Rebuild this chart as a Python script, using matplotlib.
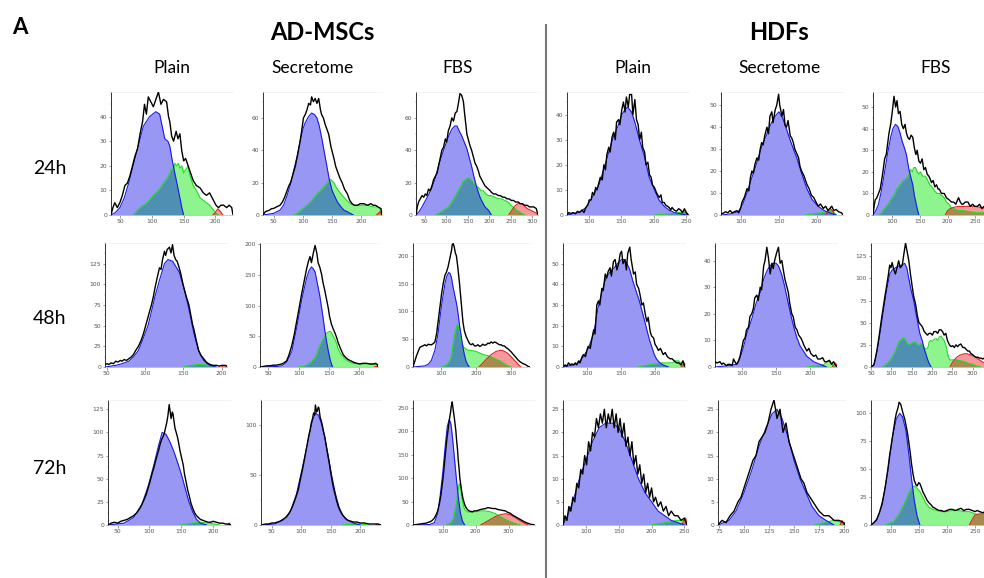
import matplotlib
matplotlib.use("Agg")
import matplotlib.pyplot as plt
from matplotlib.ticker import AutoMinorLocator

# ---------------------------------------------------------------
# Cell cycle histograms (DNA content).
# Every series is a list of (channel, count) pairs.
# hist = measured histogram, g1 = G1 fit, s = S/G2 fit, red = debris/aggregate fit
# ---------------------------------------------------------------

# AD-MSCs, Plain, 24h
ad_plain_24h_hist = [(35, 0), (38, 3), (41, 5), (45, 3), (49, 5), (53, 8), (57, 12), (61, 13), (65, 16), (69, 20),
                     (73, 24), (77, 27), (81, 33), (85, 38), (88, 45), (91, 41), (94, 48), (98, 46), (102, 44),
                     (106, 47), (110, 50), (114, 45), (118, 47), (123, 46), (126, 40), (128, 38), (131, 32),
                     (134, 30), (138, 34), (141, 31), (144, 33), (147, 26), (150, 22), (153, 23), (157, 20),
                     (161, 17), (165, 14), (170, 12), (176, 11), (181, 9), (186, 8), (191, 9), (197, 6), (201, 4),
                     (205, 3), (209, 4), (213, 4), (218, 3), (222, 4), (226, 3), (228, 0)]
ad_plain_24h_g1 = [(35, 0), (42, 1), (49, 3), (56, 7), (63, 13), (70, 20), (78, 28), (86, 36), (96, 40), (106, 42),
                   (112, 41), (120, 31), (125, 30), (128, 28), (132, 22), (136, 17), (140, 12), (144, 7), (147, 3),
                   (150, 0)]
ad_plain_24h_s = [(70, 0), (81, 3), (92, 5), (102, 8), (110, 10), (118, 13), (124, 15), (128, 17), (131, 19),
                  (134, 18), (136, 21), (139, 20), (141.5, 21), (144, 19), (147, 20), (150, 17), (152, 18), (155, 19),
                  (157, 20), (160, 16), (165, 12), (170, 10), (176, 7), (181, 6), (186, 5), (191, 4), (197, 2),
                  (202, 0.5), (206, 0)]
ad_plain_24h_red = [(196, 0), (200, 1), (204, 2.5), (208, 1.5), (212, 0)]

# AD-MSCs, Secretome, 24h
ad_secr_24h_hist = [(32, 0), (36, 2), (43, 3), (47, 4), (50, 4), (55, 5), (61, 6), (65, 8), (69, 11), (73, 15),
                    (76, 18), (79, 20), (83, 25), (87, 30), (91, 37), (95, 45), (98, 52), (101, 60), (104, 62),
                    (107, 65), (110, 69), (113, 68), (115, 73), (118, 70), (121, 72), (124, 69), (127, 72), (130, 65),
                    (132, 62), (135, 60), (138, 56), (141, 53), (144, 50), (148, 42), (153, 35), (156, 30), (159, 27),
                    (163, 23), (167, 20), (171, 16), (176, 13), (180, 9), (184, 7), (188, 6), (193, 6), (198, 7),
                    (204, 7), (210, 6), (216, 7), (220, 6), (224, 6), (228, 5), (233, 4), (235, 0)]
ad_secr_24h_g1 = [(32, 0), (50, 1), (61, 3), (67, 6), (73, 12), (79, 19), (84, 27), (90, 36), (95, 45), (100, 53),
                  (104, 57), (110, 61), (115, 63), (120, 62), (124, 60), (128, 55), (132, 48), (137, 38), (141, 30),
                  (145, 22), (150, 15), (155, 11), (159, 8), (165, 5), (170, 3), (176, 2), (181, 1), (186, 0)]
ad_secr_24h_s = [(85, 0), (90, 1), (100, 4), (107, 6), (115, 9), (124, 13), (130, 15), (135, 17), (140, 19),
                 (144, 21), (147, 22), (150, 21), (153, 20), (157, 17), (161, 15), (165, 13), (170, 11), (175, 9),
                 (181, 7), (188, 6), (193, 6), (200, 6), (210, 6), (220, 5), (227, 5), (233, 4), (235, 3)]
ad_secr_24h_red = [(225, 0), (229, 1), (231, 2), (234, 1), (235, 0)]

# AD-MSCs, FBS, 24h
ad_fbs_24h_hist = [(30, 0), (33, 5), (36, 8), (40, 10), (44, 12), (48, 11), (51.5, 13), (55, 12), (59, 16), (63, 15),
                   (67, 18), (71, 22), (75, 24), (79, 26), (82, 30), (86, 35), (90, 40), (94, 42), (98, 47), (101, 45),
                   (105, 52), (109, 55), (113, 60), (117, 58), (121, 63), (125, 64), (129, 70), (132, 75), (136, 74),
                   (140, 70), (143, 62), (146, 55), (148, 50), (152, 46), (155, 43), (159, 40), (163, 36), (167, 32),
                   (171, 30), (175, 27), (178, 24), (182, 22), (186, 20), (190, 18), (194, 17), (198, 16), (202, 15),
                   (205, 14), (210, 13), (215, 13), (221, 12), (226, 12), (231, 11), (236, 11), (241, 10), (246, 10),
                   (251, 9), (256, 9), (261, 8), (267, 8), (272, 7), (277, 7), (282, 6), (288, 6), (293, 5), (298, 5),
                   (303, 5), (309, 4), (313, 0)]
ad_fbs_24h_g1 = [(30, 0), (37, 2), (44, 5), (52, 9), (60, 13), (67, 17), (75, 23), (82, 30), (90, 37), (98, 43),
                 (106, 49), (113, 53), (120, 55), (125, 55), (130, 52), (136, 49), (142, 45), (148, 41), (153, 36),
                 (159, 30), (165, 23), (171, 17), (177, 12), (182, 9), (190, 5), (198, 3), (205, 0)]
ad_fbs_24h_s = [(75, 0), (82, 1), (94, 3), (105, 5), (113, 8), (120, 11), (128, 15), (134, 18), (140, 21), (146, 22),
                (151, 23), (157, 22), (163, 20), (169, 18), (175, 17), (181, 15), (186, 15), (192, 13), (198, 12),
                (205, 12), (213, 11), (221, 10), (228, 10), (236, 9), (244, 8), (250, 6), (255, 5), (260, 4),
                (263, 3), (270, 2), (275, 1), (283, 0)]
ad_fbs_24h_red = [(245, 0), (250, 2), (255, 4), (261, 6), (267, 7), (274, 7), (280, 6), (288, 4), (295, 3), (303, 2),
                  (310, 1), (313, 0)]

# HDFs, Plain, 24h
hdf_plain_24h_hist = [(67, 0), (70, 1), (73, 0.5), (76, 1), (80, 0.5), (83, 1.5), (86, 1), (90, 2), (93, 1), (96, 3),
                      (99, 4), (101, 6), (104, 6), (106, 9), (108.5, 8), (111, 11), (113, 10), (116, 13), (118, 15),
                      (121, 14), (123.5, 20), (126, 18), (128, 24), (131, 27), (133, 25), (136, 31), (138.5, 33),
                      (141, 30), (143, 37), (146, 38), (148, 36), (151, 42), (153.5, 45), (156, 41), (158, 47),
                      (161, 43), (163, 48), (166, 48), (168, 40), (171, 46), (173.5, 38), (176, 36), (178.5, 30),
                      (181, 33), (183, 27), (186, 25), (188, 20), (191, 21), (193.5, 16), (196, 15), (198, 12),
                      (201, 11), (204, 9), (206, 8), (208.5, 7), (211, 8), (213, 5), (216, 5), (218, 4), (221, 3.5),
                      (223.5, 3), (226, 2), (228, 3), (231, 2), (235, 1.5), (238, 2.5), (241, 2), (244, 1),
                      (247, 2.5), (250, 1), (253, 0)]
hdf_plain_24h_g1 = [(67, 0), (76, 0.5), (86, 1), (96, 3), (101, 5), (108, 8), (116, 12), (123, 18), (131, 25),
                    (138, 31), (146, 36), (151, 40), (156, 42), (160, 43), (166, 41), (171, 37), (178, 30), (186, 23),
                    (193, 15), (201, 10), (208, 6), (216, 3.5), (223, 2), (231, 1), (241, 0.5), (250, 0)]
hdf_plain_24h_s = [(200, 0), (215, 0.3), (230, 0.7), (240, 1), (247, 1), (252, 0)]
hdf_plain_24h_red = [(242, 0), (245, 1.5), (247, 2), (250, 0.5), (252, 0)]

# HDFs, Secretome, 24h
hdf_secr_24h_hist = [(73, 0.5), (76, 0.8), (79, 1.5), (82, 1), (85, 2), (88, 1), (91, 1.5), (94, 2), (96.5, 1),
                     (99, 3), (101, 6), (104, 8), (107.5, 12), (110, 11), (112, 17), (114, 20), (116, 19), (118, 23),
                     (120.7, 26), (123, 25), (125, 30), (127, 33), (129, 32), (131, 36), (134, 40), (136, 37),
                     (138, 45), (140.5, 47), (142, 42), (145, 48), (147, 50), (149.5, 55), (151, 50), (154, 45),
                     (156, 48), (158, 41), (160, 40), (162, 43), (165, 36), (167, 35), (169, 33), (171, 30),
                     (173.6, 28), (176, 26), (178, 22), (180, 20), (183, 18), (187, 14), (190, 12), (193, 9), (196, 8),
                     (199, 6), (202, 4), (205, 5), (209, 3), (212, 4), (215, 2), (217.6, 3), (220, 4), (223, 2),
                     (226, 2.5), (229, 1.5), (233, 1), (235, 0)]
hdf_secr_24h_g1 = [(73, 0), (85, 0.5), (96, 1.5), (102, 5), (107.5, 10), (114, 17), (120.7, 24), (127, 31), (134, 37),
                   (140, 42), (145, 45), (150, 47), (155, 44), (160, 39), (166, 33), (173.6, 26), (180, 19), (187, 12),
                   (194, 7), (202, 4), (210, 2), (217, 1), (226, 0)]
hdf_secr_24h_s = [(185, 0), (195, 0.5), (205, 1), (212, 1.5), (218, 2), (222, 1.5), (226, 0)]
hdf_secr_24h_red = [(212, 0), (215, 2), (218, 3), (221, 2), (224, 0)]

# HDFs, FBS, 24h
hdf_fbs_24h_hist = [(65, 0), (67, 4), (69, 7), (72, 8), (75, 10), (78, 12), (80, 15), (83, 20), (86, 26), (89, 28),
                    (92, 34), (94, 38), (97, 42), (100, 48), (103, 55), (106, 50), (108.5, 53), (111, 47), (114, 48),
                    (117, 42), (120, 40), (123, 42), (125.5, 38), (128, 36), (131, 35), (134, 37), (137, 36),
                    (140, 31), (142.6, 28), (145, 30), (148, 25), (151, 24), (154, 26), (157, 21), (160, 22),
                    (163, 19), (166, 18), (168, 17), (171, 15), (174, 16), (177, 13), (180, 14), (183, 12), (185, 12),
                    (189, 10), (194, 10), (198, 8), (203, 7), (207, 6), (211, 6), (215, 5), (218, 7), (220, 8),
                    (223, 6), (226, 5), (228, 5), (232, 6), (237, 6), (241, 4), (245.5, 5), (249, 4), (254, 4),
                    (258, 5), (262, 3), (266, 4), (268, 3)]
hdf_fbs_24h_g1 = [(65, 0), (70, 2), (75, 5), (80, 11), (86, 20), (91, 28), (97, 36), (101, 40), (105.7, 42),
                  (110, 41), (114, 38), (118, 34), (122, 31), (125.5, 28), (128, 24), (131, 20), (134, 17), (137, 14),
                  (140, 9), (142.6, 6), (145, 3), (148, 0)]
hdf_fbs_24h_s = [(75, 0), (80, 1), (86, 3), (92, 5), (97, 7), (103, 9), (108, 12), (114, 14), (120, 16), (125, 17),
                 (129, 18), (133, 21), (136, 20), (139, 22), (142, 22), (145, 20), (148, 19), (151, 20), (155, 18),
                 (160, 18), (164, 16), (168, 14), (172, 13), (177, 11), (181, 10), (185, 10), (190, 9), (194, 8),
                 (198, 6), (203, 5), (207, 3), (211, 3), (220, 2), (230, 2), (240, 1.5), (254, 1), (268, 1)]
hdf_fbs_24h_red = [(196, 0), (200, 2), (205, 3), (210, 3.5), (220, 4), (230, 4), (240, 4), (250, 4), (260, 3.5),
                   (268, 3)]

# AD-MSCs, Plain, 48h
ad_plain_48h_hist = [(48, 3), (51, 4), (53, 3), (56, 5), (59, 4), (62, 7), (65, 6), (68, 8), (70, 7), (73, 9),
                     (76, 8), (79, 10), (82, 12), (85, 15), (88, 20), (91.5, 25), (95, 32), (98, 40), (101, 50),
                     (104, 60), (106, 67), (108.5, 75), (111, 85), (113, 95), (116, 108), (119, 120), (121, 118),
                     (123, 130), (125.5, 140), (127, 135), (129, 142), (132, 145), (134, 138), (136, 148), (138, 135),
                     (140, 130), (142, 128), (144.7, 120), (147, 112), (149, 103), (151, 95), (154, 85), (157.4, 75),
                     (160, 62), (162, 52), (164, 45), (167, 32), (170, 20), (173, 14), (176.6, 10), (180, 6), (183, 4),
                     (185, 3), (189, 2), (193.6, 2), (197, 1), (200, 2), (204, 2), (207, 1), (208, 0)]
ad_plain_48h_g1 = [(48, 0), (55, 1), (62, 2), (70, 4), (79, 7), (85, 12), (91.5, 20), (98, 35), (104, 50), (108, 65),
                   (113, 85), (119, 105), (125.5, 125), (130, 130), (136, 128), (140, 122), (144.7, 115), (151, 95),
                   (157.4, 70), (164, 40), (170, 20), (176.6, 8), (181, 4), (185, 2), (193, 0)]
ad_plain_48h_s = [(150, 0), (160, 2), (168, 3), (176, 3), (184, 2), (190, 0)]
ad_plain_48h_red = [(200, 0), (203, 1.5), (206, 2), (208, 0)]

# AD-MSCs, Secretome, 48h
ad_secr_48h_hist = [(36, 0), (42, 1), (48, 2), (52.7, 2), (58, 3), (63.7, 3), (68, 4), (72, 5), (76, 7), (80, 10),
                    (84, 20), (88.5, 35), (92, 50), (96.7, 75), (101, 98), (105, 120), (109, 140), (113, 160),
                    (116, 172), (118.7, 180), (121, 170), (124, 185), (127, 198), (130, 185), (132, 170), (135, 162),
                    (138, 150), (140, 138), (143, 125), (146, 110), (149, 95), (151, 82), (154, 70), (157, 62),
                    (160, 55), (163, 47), (165, 40), (169, 30), (173.6, 20), (178, 15), (182, 12), (186, 10), (190, 8),
                    (196, 6), (201, 5), (206, 6), (212, 6), (218, 5), (223, 5), (227, 6), (230, 4), (231, 0)]
ad_secr_48h_g1 = [(36, 0), (55, 0.5), (65, 1), (72, 2), (80, 8), (88.5, 25), (96.7, 65), (105, 110), (113, 145),
                  (117, 157), (121, 163), (124, 160), (127, 155), (132, 130), (135, 115), (138, 95), (141, 75),
                  (143, 60), (146, 42), (149, 25), (152, 12), (154, 5), (156, 0)]
ad_secr_48h_s = [(100, 0), (107, 1), (113, 3), (120, 8), (127, 15), (131, 25), (135, 35), (139, 43), (143, 50),
                 (146, 55), (149, 57), (152, 58), (154, 56), (157, 50), (160, 45), (163, 37), (165, 30), (169, 22),
                 (173.6, 16), (178, 12), (182, 9), (186, 7), (190, 6), (200, 5), (207, 5), (215, 5), (222, 4),
                 (229, 4), (231, 3)]
ad_secr_48h_red = [(225, 0), (228, 1), (231, 1)]

# AD-MSCs, FBS, 48h
ad_fbs_48h_hist = [(18, 0), (23, 10), (28, 20), (33, 28), (37.5, 35), (42, 37), (47, 38), (52, 40), (57, 38), (62, 41),
                   (67, 40), (71, 40), (76, 42), (81, 45), (86, 60), (90, 80), (95, 105), (100, 130), (105, 150),
                   (110, 165), (114, 170), (119, 180), (124, 195), (129, 210), (131, 220), (134, 222), (137, 215),
                   (140, 205), (143, 200), (147, 180), (152, 150), (157, 115), (162, 80), (166, 65), (171, 55),
                   (176, 48), (181, 42), (185.5, 40), (190, 42), (195, 38), (200, 38), (205, 40), (210, 37), (214, 38),
                   (219, 41), (224, 39), (229, 40), (234, 43), (238, 42), (243, 45), (248, 43), (252.6, 45), (257, 44),
                   (262, 42), (267, 40), (272, 40), (276, 38), (281, 38), (286, 35), (291, 33), (296, 30), (301, 27),
                   (305, 24), (310.6, 20), (315, 17), (320, 13), (325, 10), (330, 8), (335, 6), (339.6, 5), (345, 3),
                   (350, 1), (355, 0)]
ad_fbs_48h_g1 = [(18, 0), (35, 1), (52, 2), (62, 5), (71, 12), (81, 30), (90, 60), (95, 85), (100, 110), (105, 130),
                 (110, 150), (115, 163), (121, 170), (125, 168), (129, 160), (133, 145), (138, 130), (143, 115),
                 (147, 100), (152, 75), (157, 55), (162, 35), (166, 22), (171, 10), (176, 4), (180, 0)]
ad_fbs_48h_s = [(100, 0), (110, 2), (116, 5), (121, 8), (126, 15), (130, 25), (133, 40), (137, 55), (140, 65),
                (143, 72), (145, 76), (148, 74), (150, 70), (153, 58), (156, 48), (160, 40), (165, 35), (171, 32),
                (178, 30), (185, 30), (192, 29), (200, 28), (207, 26), (214, 24), (222, 22), (229, 21), (236, 20),
                (243, 18), (250, 16), (257, 14), (264, 12), (271, 10), (278, 7), (285, 4), (292, 2), (300, 0)]
ad_fbs_48h_red = [(208, 0), (214, 4), (222, 9), (229, 14), (236, 18), (243, 22), (250, 25), (257, 28), (264, 29),
                  (271, 30), (278, 29), (285, 27), (292, 24), (300, 19), (307, 14), (315, 9), (322, 4), (329, 0)]

# HDFs, Plain, 48h
hdf_plain_48h_hist = [(65, 0), (68, 1), (71, 0.5), (73, 2), (76, 1), (78, 1.5), (80.5, 1), (83, 2), (85, 1), (88, 3),
                      (90, 2), (93, 5), (95, 6), (98, 5), (100, 8), (102, 10), (105, 9), (107, 13), (110, 18),
                      (112, 16), (114.6, 30), (117, 32), (119, 30), (122, 38), (124, 37), (127, 45), (129, 43),
                      (131, 46), (134, 48), (136, 44), (139, 51), (141.5, 52), (144, 47), (146.6, 50), (149, 55),
                      (151, 56), (153, 50), (156, 52), (158, 47), (160, 55), (163, 58), (165, 52), (168.5, 45),
                      (171, 46), (173, 40), (176, 38), (178, 35), (180.7, 30), (183, 31), (186, 25), (188, 22),
                      (190, 24), (193, 17), (195, 15), (198, 14), (200, 11), (202, 10), (205, 8), (208, 9), (212, 6),
                      (215, 7), (218, 5), (222, 4), (225, 4), (228, 3), (231.7, 2), (235, 2), (238, 1), (241, 3),
                      (244, 0)]
hdf_plain_48h_g1 = [(65, 0), (80, 1), (88, 2), (95, 5), (102, 9), (110, 16), (116, 28), (122, 36), (128, 43),
                    (134, 46), (140, 48), (145, 50), (151, 52), (155, 52), (159, 50), (163, 47), (168, 41), (173, 36),
                    (177, 32), (181, 27), (185, 22), (188, 18), (192, 13), (195, 10), (199, 6), (202, 4), (207, 2),
                    (212, 1), (220, 0)]
hdf_plain_48h_s = [(175, 0), (190, 1), (200, 1.5), (210, 2), (220, 2), (226, 2), (230, 3), (234, 3), (238, 2),
                   (242, 1), (244, 0)]
hdf_plain_48h_red = [(238, 0), (241, 1), (244, 2)]

# HDFs, Secretome, 48h
hdf_secr_48h_hist = [(61, 2), (64, 1.5), (68, 2), (71, 1), (73, 1.5), (75.6, 1), (78, 0.5), (80, 1), (83, 1),
                     (86, 0.5), (88, 3), (90, 2), (92.7, 1), (95, 2), (97.5, 4), (100, 7), (102.4, 10), (105, 11),
                     (107, 14), (110, 15), (112, 19), (114.6, 20), (117, 22), (119, 26), (122, 27), (124, 25),
                     (127, 30), (129, 29), (132, 38), (134, 40), (136.6, 45), (139, 41), (141.5, 35), (144, 39),
                     (146, 37), (148, 40), (151, 43), (153.6, 45), (156, 39), (158.5, 40), (161, 36), (163, 33),
                     (166, 30), (168, 28), (170, 24), (173, 20), (175, 19), (178, 15), (180.5, 14), (183, 12),
                     (186, 11), (188, 10), (191, 8), (195, 6), (198, 7), (201, 5), (205, 4), (208, 4.5), (211, 3),
                     (214.6, 3), (218, 3.5), (221, 2), (224, 2), (228, 2.5), (231, 1), (234, 2), (236, 1), (239, 0)]
hdf_secr_48h_g1 = [(61, 0), (80, 0.5), (92, 1), (97, 3), (102, 7), (108, 13), (114.6, 18), (121, 24), (127, 28),
                   (132, 33), (136.6, 36), (141, 38), (146, 39), (150, 39), (153.6, 38), (158, 35), (162, 31),
                   (167, 25), (173, 18), (177, 14), (180.5, 11), (185, 8), (190, 6), (195, 4), (200, 3), (205, 2),
                   (214, 1), (224, 0)]
hdf_secr_48h_s = [(195, 0), (210, 0.5), (220, 1), (225, 2), (229, 2), (232, 1), (236, 0)]
hdf_secr_48h_red = [(232, 0), (235, 1), (237, 1.5), (239, 0)]

# HDFs, FBS, 48h
hdf_fbs_48h_hist = [(50, 0), (53, 1), (56.6, 2), (60, 8), (65, 20), (69, 32), (73, 45), (77, 58), (81, 70), (85, 82),
                    (89.7, 95), (93, 105), (96, 115), (99, 112), (102, 118), (106, 110), (110, 105), (114, 112),
                    (118, 120), (122, 112), (127, 115), (131, 128), (135, 140), (139, 130), (143, 120), (147, 105),
                    (151.6, 90), (155, 80), (160, 70), (164, 58), (168, 50), (172, 48), (176.6, 45), (181, 40),
                    (185, 38), (189, 36), (193, 38), (197, 38), (201, 36), (205, 40), (210, 40), (214, 38), (218, 42),
                    (222, 42), (226, 40), (230, 36), (234, 38), (238, 30), (243, 25), (247, 23), (251, 24), (255, 22),
                    (259, 25), (263, 23), (267, 25), (271, 26), (276, 22), (280, 22), (284, 20), (288, 18), (292, 18),
                    (296, 15), (300, 14), (304.5, 12), (309, 11), (313, 11), (317, 10), (321, 10), (325, 9), (328, 10)]
hdf_fbs_48h_g1 = [(50, 0), (58, 3), (65, 18), (73, 40), (81, 65), (89, 88), (96, 105), (103, 110), (110, 112),
                  (118, 114), (125, 115), (133, 117), (138, 112), (143, 100), (148, 88), (155, 75), (160, 62),
                  (165, 50), (170, 38), (176, 30), (181, 20), (185, 15), (189, 9), (192, 5), (198, 0)]
hdf_fbs_48h_s = [(78, 0), (85, 2), (92, 5), (97, 8), (103, 12), (110, 18), (114, 23), (118, 28), (122, 30), (127, 32),
                 (131, 33), (135, 30), (139, 27), (143, 25), (147, 26), (151, 27), (155, 28), (160, 28), (164, 25),
                 (168, 24), (172, 26), (176, 26), (181, 22), (185, 20), (190, 22), (193, 28), (197, 30), (201, 29),
                 (205, 31), (210, 32), (214, 30), (218, 34), (222, 35), (226, 32), (230, 30), (235, 23), (240, 12),
                 (244, 8), (250, 8), (260, 8), (270, 7), (280, 6), (290, 4), (300, 3), (310, 1), (320, 0)]
hdf_fbs_48h_red = [(244, 0), (250, 5), (255, 8), (261, 11), (267, 13), (273, 14), (280, 15), (286, 15), (292, 14),
                   (298, 13), (304.5, 12), (310, 10), (317, 8), (323, 6), (328, 5)]

# AD-MSCs, Plain, 72h
ad_plain_72h_hist = [(35, 0), (40, 2), (45, 3), (50, 2), (55, 4), (60, 5), (65, 6), (70, 8), (75, 10), (80, 13),
                     (85, 18), (88, 22), (92, 28), (95, 33), (98, 40), (101, 47), (104, 55), (107, 62), (110, 70),
                     (112, 75), (115, 82), (117, 88), (119, 92), (121, 95), (123, 98), (125, 104), (127, 110),
                     (129, 118), (131, 130), (133, 120), (134, 115), (136, 122), (137, 120), (139, 110), (140, 105),
                     (142, 100), (144, 95), (146, 88), (148, 80), (150, 74), (153, 65), (155, 55), (158, 45),
                     (160, 38), (163, 30), (165, 24), (168, 18), (171, 13), (174, 10), (177, 8), (180, 6), (184, 5),
                     (188, 4), (192, 3), (196, 3), (200, 4), (205, 3), (210, 2), (215, 2), (220, 1), (225, 1), (228, 0)]
ad_plain_72h_g1 = [(35, 0), (60, 2), (75, 8), (88, 22), (98, 42), (107, 65), (114, 85), (120, 100), (126, 98),
                   (132, 90), (138, 80), (144, 68), (150, 55), (156, 40), (162, 25), (168, 14), (174, 6), (180, 2),
                   (190, 0)]
ad_plain_72h_s = [(150, 0), (165, 2), (180, 3), (195, 2), (210, 0)]
ad_plain_72h_red = [(222, 0), (225, 2), (228, 0)]

# AD-MSCs, Secretome, 72h
ad_secr_72h_hist = [(32, 0), (40, 1), (45, 1), (50, 2), (55, 2), (60, 3), (65, 4), (70, 6), (75, 8), (80, 12),
                    (85, 18), (90, 26), (95, 35), (98, 44), (102, 55), (105, 64), (108, 74), (110, 80), (113, 90),
                    (115, 95), (117, 102), (119, 106), (121, 112), (123, 110), (124, 120), (126, 113), (127, 114),
                    (129, 118), (130, 117), (132, 108), (134, 104), (136, 99), (138, 93), (140, 88), (143, 77),
                    (145, 70), (148, 60), (150, 52), (153, 42), (155, 36), (158, 29), (160, 24), (163, 18), (166, 14),
                    (170, 10), (174, 7), (178, 5), (183, 4), (188, 3), (194, 3), (200, 2), (207, 2), (215, 1),
                    (222, 1), (230, 1), (235, 0)]
ad_secr_72h_g1 = [(32, 0), (55, 1), (70, 5), (82, 14), (92, 31), (100, 52), (107, 71), (113, 88), (119, 104),
                  (124, 112), (129, 110), (134, 102), (140, 87), (146, 68), (152, 48), (158, 31), (164, 18), (170, 10),
                  (178, 5), (188, 2), (200, 0)]
ad_secr_72h_s = [(170, 0), (185, 1), (200, 1), (215, 0)]
ad_secr_72h_red = [(226, 0), (229, 1), (232, 0)]

# AD-MSCs, FBS, 72h
ad_fbs_72h_hist = [(10, 0), (20, 1), (30, 2), (40, 3), (50, 4), (58, 6), (65, 8), (70, 11), (75, 15), (80, 22),
                   (85, 30), (90, 45), (95, 65), (98, 82), (102, 105), (105, 128), (108, 150), (110, 165), (113, 185),
                   (115, 195), (118, 212), (120, 222), (122, 232), (124, 240), (126, 252), (128, 258), (129, 262),
                   (131, 250), (133, 240), (135, 230), (137, 218), (140, 200), (142, 182), (145, 160), (147, 140),
                   (150, 118), (152, 100), (155, 85), (158, 70), (161, 58), (164, 50), (167, 43), (170, 38), (175, 33),
                   (180, 30), (185, 29), (190, 28), (195, 30), (200, 30), (207, 31), (215, 33), (222, 34), (230, 35),
                   (237, 37), (245, 36), (252, 35), (260, 35), (267, 33), (275, 32), (282, 31), (290, 30), (297, 27),
                   (305, 25), (312, 21), (320, 18), (327, 15), (335, 12), (342, 9), (350, 6), (357, 4), (365, 2),
                   (372, 1), (380, 0)]
ad_fbs_72h_g1 = [(10, 0), (60, 1), (75, 5), (85, 25), (92, 60), (100, 110), (108, 170), (114, 210), (120, 225),
                 (125, 215), (130, 185), (136, 140), (142, 95), (148, 55), (154, 25), (160, 8), (167, 0)]
ad_fbs_72h_s = [(110, 0), (125, 5), (133, 15), (140, 40), (145, 65), (150, 88), (154, 82), (158, 60), (163, 40),
                (168, 32), (175, 28), (185, 27), (200, 28), (215, 30), (230, 30), (245, 28), (260, 24), (275, 18),
                (290, 12), (305, 7), (320, 3), (335, 0)]
ad_fbs_72h_red = [(215, 0), (230, 6), (245, 12), (260, 18), (275, 22), (290, 24), (305, 22), (320, 16), (335, 9),
                  (350, 3), (360, 0)]

# HDFs, Plain, 72h
hdf_plain_72h_hist = [(65, 0), (68, 2), (71, 1), (74, 4), (77, 3), (80, 6), (83, 5), (86, 9), (89, 8), (92, 12),
                      (95, 11), (98, 15), (101, 13), (104, 18), (107, 16), (110, 20), (113, 19), (116, 23), (119, 21),
                      (122, 24), (125, 22), (128, 25), (131, 21), (134, 24), (137, 22), (140, 25), (143, 21),
                      (146, 24), (149, 20), (152, 23), (155, 19), (158, 22), (161, 17), (164, 19), (167, 15),
                      (170, 18), (173, 13), (176, 15), (179, 11), (182, 13), (185, 9), (188, 11), (191, 7), (194, 9),
                      (197, 6), (200, 8), (203, 5), (206, 6), (210, 4), (214, 5), (218, 3), (222, 4), (226, 2),
                      (230, 3), (235, 2), (240, 2), (245, 1), (250, 1.5), (254, 0)]
hdf_plain_72h_g1 = [(65, 0), (72, 2), (80, 5), (90, 10), (100, 14), (110, 18), (120, 21), (130, 22), (140, 22),
                    (150, 21), (160, 18), (170, 14), (180, 10), (190, 7), (200, 5), (210, 3), (220, 2), (230, 1),
                    (240, 0.5), (250, 0)]
hdf_plain_72h_s = [(200, 0), (220, 0.5), (240, 1), (250, 1), (254, 0)]
hdf_plain_72h_red = [(246, 0), (249, 1), (252, 1.5), (254, 0)]

# HDFs, Secretome, 72h
hdf_secr_72h_hist = [(74, 0), (78, 1), (82, 0.5), (86, 2), (90, 3), (94, 5), (97, 6), (100, 8), (103, 10), (106, 12),
                     (109, 14), (112, 15), (115, 18), (118, 19), (121, 20), (124, 22), (127, 25), (130, 27), (133, 23),
                     (136, 25), (139, 20), (142, 22), (145, 18), (148, 16), (151, 14), (154, 12), (157, 10), (160, 9),
                     (163, 7), (166, 6), (169, 5), (172, 4), (175, 3), (180, 2), (185, 2), (190, 1), (195, 1),
                     (200, 0.5), (201, 0)]
hdf_secr_72h_g1 = [(74, 0), (85, 1), (92, 3), (100, 7), (108, 12), (115, 17), (122, 21), (128, 24), (133, 25),
                   (138, 23), (144, 19), (150, 14), (156, 10), (162, 7), (168, 4), (175, 2), (182, 1), (190, 0)]
hdf_secr_72h_s = [(170, 0), (180, 0.5), (190, 1), (198, 0.5), (201, 0)]
hdf_secr_72h_red = [(196, 0), (198, 1), (200, 0)]

# HDFs, FBS, 72h
hdf_fbs_72h_hist = [(65, 0), (70, 2), (75, 5), (80, 11), (85, 20), (90, 33), (95, 50), (98, 62), (102, 75), (105, 85),
                    (108, 95), (110, 100), (113, 105), (115, 110), (118, 108), (120, 104), (122, 100), (125, 95),
                    (127, 90), (130, 82), (132, 75), (135, 64), (137, 55), (140, 45), (142, 40), (145, 36), (147, 35),
                    (150, 38), (152, 37), (155, 33), (157, 30), (160, 27), (162, 25), (165, 22), (168, 20), (172, 18),
                    (175, 16), (179, 15), (182, 14), (186, 13), (190, 13), (195, 12), (200, 13), (205, 14), (210, 14),
                    (215, 13), (220, 14), (225, 15), (230, 13), (235, 14), (240, 14), (245, 13), (250, 12), (254, 13),
                    (258, 12), (264, 11), (268, 12)]
hdf_fbs_72h_g1 = [(65, 0), (75, 4), (85, 18), (95, 48), (103, 78), (110, 95), (116, 100), (121, 97), (127, 85),
                  (132, 65), (137, 42), (142, 22), (147, 8), (152, 0)]
hdf_fbs_72h_s = [(90, 0), (105, 3), (115, 10), (125, 20), (132, 28), (137, 33), (142, 35), (147, 33), (152, 30),
                 (157, 25), (162, 20), (168, 16), (175, 14), (182, 13), (190, 12), (200, 12), (210, 13), (220, 13),
                 (230, 12), (240, 12), (250, 10), (258, 9), (268, 9)]
hdf_fbs_72h_red = [(240, 0), (245, 5), (250, 9), (258, 10), (268, 10)]

groups = ["AD-MSCs", "HDFs"]
conditions = ["Plain", "Secretome", "FBS"]
times = ["24h", "48h", "72h"]

# colours of the modelling software
BLUE_FILL = "#9898f4"
BLUE_EDGE = "#1a1ae6"
TEAL = "#4f8fb3"
GREEN_FILL = "#8ef58e"
GREEN_EDGE = "#1fdc1f"
RED_FILL = "#f59a9a"
RED_EDGE = "#e62020"
OLIVE = "#a88a4f"


def draw_panel(ax, hist, g1, s_phase, red, xlim, ylim, xticks, yticks):
    gx, gy = zip(*s_phase)
    bx, by = zip(*g1)
    rx, ry = zip(*red)
    hx, hy = zip(*hist)

    green = ax.fill_between(gx, gy, 0, color=GREEN_FILL, lw=0, zorder=1)
    ax.fill_between(rx, ry, 0, color=RED_FILL, lw=0, zorder=1.5)
    olive = ax.fill_between(rx, ry, 0, color=OLIVE, lw=0, zorder=1.6)
    olive.set_clip_path(green.get_paths()[0], ax.transData)
    blue = ax.fill_between(bx, by, 0, color=BLUE_FILL, lw=0, zorder=2)
    teal = ax.fill_between(gx, gy, 0, color=TEAL, lw=0, zorder=3)
    teal.set_clip_path(blue.get_paths()[0], ax.transData)

    ax.plot(gx, gy, color=GREEN_EDGE, lw=0.8, zorder=4)
    ax.plot(rx, ry, color=RED_EDGE, lw=0.8, zorder=4)
    ax.plot(bx, by, color=BLUE_EDGE, lw=0.8, zorder=4)
    ax.plot(hx, hy, color="black", lw=1.0, zorder=5)

    ax.set_xlim(xlim)
    ax.set_ylim(ylim)
    ax.set_xticks(xticks)
    ax.set_yticks(yticks)
    ax.yaxis.set_minor_locator(AutoMinorLocator(2))
    ax.tick_params(labelsize=4.3, colors="#555555", length=1.8, width=0.4, pad=1)
    ax.tick_params(which="minor", length=1, width=0.3, colors="#999999")
    ax.spines["left"].set_color("#333333")
    ax.spines["left"].set_linewidth(0.7)
    ax.spines["bottom"].set_color("#bbbbbb")
    ax.spines["bottom"].set_linewidth(0.5)
    ax.spines["top"].set_color("#eeeeee")
    ax.spines["top"].set_linewidth(0.5)
    ax.spines["right"].set_visible(False)
    ax.set_facecolor("none")


# panels row by row, columns AD Plain, AD Secretome, AD FBS, HDF Plain, HDF Secretome, HDF FBS
panels = [
    [
        (ad_plain_24h_hist, ad_plain_24h_g1, ad_plain_24h_s, ad_plain_24h_red,
         (35, 228), (0, 50), [50, 100, 150, 200], [0, 10, 20, 30, 40]),
        (ad_secr_24h_hist, ad_secr_24h_g1, ad_secr_24h_s, ad_secr_24h_red,
         (32, 235), (0, 76), [50, 100, 150, 200], [0, 20, 40, 60]),
        (ad_fbs_24h_hist, ad_fbs_24h_g1, ad_fbs_24h_s, ad_fbs_24h_red,
         (30, 313), (0, 76), [50, 100, 150, 200, 250, 300], [0, 20, 40, 60]),
        (hdf_plain_24h_hist, hdf_plain_24h_g1, hdf_plain_24h_s, hdf_plain_24h_red,
         (67, 254), (0, 49), [100, 150, 200, 250], [0, 10, 20, 30, 40]),
        (hdf_secr_24h_hist, hdf_secr_24h_g1, hdf_secr_24h_s, hdf_secr_24h_red,
         (73, 235), (0, 56), [100, 150, 200], [0, 10, 20, 30, 40, 50]),
        (hdf_fbs_24h_hist, hdf_fbs_24h_g1, hdf_fbs_24h_s, hdf_fbs_24h_red,
         (65, 266), (0, 57), [100, 150, 200, 250], [0, 10, 20, 30, 40, 50]),
    ],
    [
        (ad_plain_48h_hist, ad_plain_48h_g1, ad_plain_48h_s, ad_plain_48h_red,
         (48, 207), (0, 150), [50, 100, 150, 200], [0, 25, 50, 75, 100, 125]),
        (ad_secr_48h_hist, ad_secr_48h_g1, ad_secr_48h_s, ad_secr_48h_red,
         (36, 231), (0, 202), [50, 100, 150, 200], [0, 50, 100, 150, 200]),
        (ad_fbs_48h_hist, ad_fbs_48h_g1, ad_fbs_48h_s, ad_fbs_48h_red,
         (18, 355), (0, 223), [100, 200, 300], [0, 50, 100, 150, 200]),
        (hdf_plain_48h_hist, hdf_plain_48h_g1, hdf_plain_48h_s, hdf_plain_48h_red,
         (65, 244), (0, 60), [100, 150, 200], [0, 10, 20, 30, 40, 50]),
        (hdf_secr_48h_hist, hdf_secr_48h_g1, hdf_secr_48h_s, hdf_secr_48h_red,
         (61, 239), (0, 46.6), [100, 150, 200], [0, 10, 20, 30, 40]),
        (hdf_fbs_48h_hist, hdf_fbs_48h_g1, hdf_fbs_48h_s, hdf_fbs_48h_red,
         (50, 328), (0, 140), [50, 100, 150, 200, 250, 300], [0, 25, 50, 75, 100, 125]),
    ],
    [
        (ad_plain_72h_hist, ad_plain_72h_g1, ad_plain_72h_s, ad_plain_72h_red,
         (35, 228), (0, 135), [50, 100, 150, 200], [0, 25, 50, 75, 100, 125]),
        (ad_secr_72h_hist, ad_secr_72h_g1, ad_secr_72h_s, ad_secr_72h_red,
         (32, 235), (0, 125), [50, 100, 150, 200], [0, 50, 100]),
        (ad_fbs_72h_hist, ad_fbs_72h_g1, ad_fbs_72h_s, ad_fbs_72h_red,
         (10, 380), (0, 266), [100, 200, 300], [0, 50, 100, 150, 200, 250]),
        (hdf_plain_72h_hist, hdf_plain_72h_g1, hdf_plain_72h_s, hdf_plain_72h_red,
         (65, 254), (0, 27), [100, 150, 200, 250], [0, 5, 10, 15, 20, 25]),
        (hdf_secr_72h_hist, hdf_secr_72h_g1, hdf_secr_72h_s, hdf_secr_72h_red,
         (74, 201), (0, 27), [75, 100, 125, 150, 175, 200], [0, 5, 10, 15, 20, 25]),
        (hdf_fbs_72h_hist, hdf_fbs_72h_g1, hdf_fbs_72h_s, hdf_fbs_72h_red,
         (65, 266), (0, 112), [100, 150, 200, 250], [0, 25, 50, 75, 100]),
    ],
]

# Figure layout in pixels: (left, right) of every panel per row, and (top, bottom) per row
W, H = 984, 578
col_edges = [
    [(111, 233), (263, 382), (416, 538), (567, 689), (721, 843), (873, 984)],
    [(105, 227), (260, 378), (413, 530), (563, 685), (715, 837), (871, 984)],
    [(108, 231), (261, 381), (413, 535), (563, 687), (718, 845), (871, 984)],
]
row_edges = [(92, 215), (243, 367), (400, 525)]

fig = plt.figure(figsize=(W / 100, H / 100), dpi=100)
fig.patch.set_facecolor("white")

for r in range(3):
    top, bottom = row_edges[r]
    for c in range(6):
        left, right = col_edges[r][c]
        rect = [left / W, 1 - bottom / H, (right - left) / W, (bottom - top) / H]
        ax = fig.add_axes(rect)
        draw_panel(ax, *panels[r][c])

head_font = "Lato"
fig.text(12 / W, 1 - 27 / H, "A", fontsize=16, fontweight="bold", family=head_font, va="center")
fig.text(322 / W, 1 - 32 / H, groups[0], fontsize=17, fontweight="bold", family=head_font,
         ha="center", va="center")
fig.text(779 / W, 1 - 32 / H, groups[1], fontsize=17, fontweight="bold", family=head_font,
         ha="center", va="center")

col_title_x = [172, 313, 458, 633, 780, 936]
for c, x in enumerate(col_title_x):
    fig.text(x / W, 1 - 68 / H, conditions[c % 3], fontsize=12.5, family=head_font, ha="center", va="center")

row_label_y = [168, 318, 468]
for r, y in enumerate(row_label_y):
    fig.text(50 / W, 1 - y / H, times[r], fontsize=14, family=head_font, ha="center", va="center")

# divider between cell types
fig.add_artist(plt.Line2D([546 / W, 546 / W], [0, 1 - 25 / H], color="#777777", lw=1.5))

fig.savefig("out.png", dpi=100)
